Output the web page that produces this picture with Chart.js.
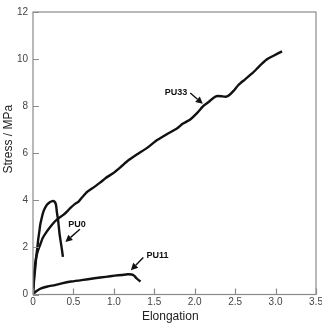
<!DOCTYPE html>
<html>
<head>
<meta charset="utf-8">
<script src="https://cdn.jsdelivr.net/npm/chart.js@4/dist/chart.umd.min.js"></script>
<style>
  html, body { margin: 0; padding: 0; background: #fff; }
  #wrap { width: 322px; height: 323px; position: relative; }
</style>
</head>
<body>
<div id="wrap"><canvas id="stressChart"></canvas></div>
<script>
// [elongation, stress MPa]
const pu33 = [
  [0, 0], [0.01, 0.6], [0.02, 1.1], [0.035, 1.5], [0.06, 1.85], [0.087, 2.1],
  [0.12, 2.4], [0.17, 2.67], [0.22, 2.9], [0.27, 3.1], [0.32, 3.25], [0.375, 3.38],
  [0.42, 3.52], [0.46, 3.67], [0.52, 3.85], [0.56, 3.93], [0.6, 4.1], [0.66, 4.33],
  [0.75, 4.55], [0.83, 4.75], [0.9, 4.95], [0.99, 5.15], [1.08, 5.4], [1.18, 5.7],
  [1.3, 5.98], [1.42, 6.25], [1.53, 6.55], [1.65, 6.8], [1.78, 7.05], [1.85, 7.25],
  [1.94, 7.42], [2.04, 7.75], [2.11, 8.02], [2.18, 8.2], [2.23, 8.35], [2.28, 8.43],
  [2.33, 8.42], [2.38, 8.4], [2.42, 8.45], [2.48, 8.65], [2.54, 8.9], [2.62, 9.13],
  [2.72, 9.42], [2.8, 9.7], [2.89, 9.98], [2.98, 10.15], [3.08, 10.33]
];
const pu0 = [
  [0, 0], [0.015, 0.7], [0.03, 1.2], [0.04, 1.6], [0.053, 1.97], [0.065, 2.35],
  [0.078, 2.67], [0.09, 2.97], [0.107, 3.24], [0.125, 3.48], [0.148, 3.67], [0.17, 3.8],
  [0.2, 3.9], [0.225, 3.95], [0.25, 3.97], [0.27, 3.93], [0.285, 3.8], [0.295, 3.5],
  [0.31, 3.17], [0.33, 2.53], [0.355, 1.97], [0.37, 1.6]
];
const pu11 = [
  [0, 0], [0.02, 0.08], [0.045, 0.15], [0.1, 0.26], [0.18, 0.34], [0.27, 0.4],
  [0.37, 0.48], [0.47, 0.55], [0.6, 0.61], [0.76, 0.69], [0.9, 0.75], [1.01, 0.8],
  [1.1, 0.83], [1.17, 0.86], [1.22, 0.85], [1.25, 0.8], [1.28, 0.69], [1.31, 0.6],
  [1.33, 0.55]
];

const seriesNames = ["PU33", "PU0", "PU11"];
const xTicks = [0, 0.5, 1.0, 1.5, 2.0, 2.5, 3.0, 3.5];
const yTicks = [0, 2, 4, 6, 8, 10, 12];
const xTitle = "Elongation";
const yTitle = "Stress / MPa";

// label text, label position, arrow start, arrow tip (data units)
const labels = [
  { text: "PU33", at: [1.77, 8.6], from: [1.945, 8.56], to: [2.1, 8.1] },
  { text: "PU0", at: [0.544, 2.98], from: [0.58, 2.77], to: [0.4, 2.23] },
  { text: "PU11", at: [1.54, 1.64], from: [1.364, 1.57], to: [1.21, 1.03] }
];

const FONT = "'Liberation Sans', Arial, sans-serif";

function toPoints(arr) {
  return arr.map(p => ({ x: p[0], y: p[1] }));
}

const frame = {
  id: "frame",
  afterDraw(chart) {
    const ctx = chart.ctx;
    const a = chart.chartArea;
    const xs = chart.scales.x, ys = chart.scales.y;
    ctx.save();
    ctx.strokeStyle = "#8a8a8a";
    ctx.lineWidth = 1.2;
    ctx.strokeRect(a.left, a.top, a.right - a.left, a.bottom - a.top);
    ctx.beginPath();
    xTicks.forEach(v => {
      const px = Math.round(xs.getPixelForValue(v)) + 0.5;
      ctx.moveTo(px, a.bottom);
      ctx.lineTo(px, a.bottom - 6);
    });
    yTicks.forEach(v => {
      const py = Math.round(ys.getPixelForValue(v)) + 0.5;
      ctx.moveTo(a.left, py);
      ctx.lineTo(a.left + 6, py);
    });
    ctx.stroke();

    // axis titles
    ctx.fillStyle = "#222";
    ctx.font = "12px " + FONT;
    ctx.textAlign = "center";
    ctx.textBaseline = "middle";
    ctx.fillText(xTitle, a.left + (a.right - a.left) * 0.485, chart.height - 6);
    ctx.save();
    ctx.translate(9, a.top + (a.bottom - a.top) * 0.45);
    ctx.rotate(-Math.PI / 2);
    ctx.fillText(yTitle, 0, 0);
    ctx.restore();

    ctx.fillStyle = "#111";
    ctx.strokeStyle = "#111";
    ctx.font = "bold 9px " + FONT;
    labels.forEach(l => {
      ctx.fillText(l.text, xs.getPixelForValue(l.at[0]), ys.getPixelForValue(l.at[1]));
      const x1 = xs.getPixelForValue(l.from[0]), y1 = ys.getPixelForValue(l.from[1]);
      const x2 = xs.getPixelForValue(l.to[0]), y2 = ys.getPixelForValue(l.to[1]);
      const ang = Math.atan2(y2 - y1, x2 - x1);
      const hl = 7, hw = 3.5;
      ctx.lineWidth = 1.4;
      ctx.beginPath();
      ctx.moveTo(x1, y1);
      ctx.lineTo(x2 - hl * Math.cos(ang), y2 - hl * Math.sin(ang));
      ctx.stroke();
      ctx.beginPath();
      ctx.moveTo(x2, y2);
      ctx.lineTo(x2 - hl * Math.cos(ang) + hw * Math.sin(ang), y2 - hl * Math.sin(ang) - hw * Math.cos(ang));
      ctx.lineTo(x2 - hl * Math.cos(ang) - hw * Math.sin(ang), y2 - hl * Math.sin(ang) + hw * Math.cos(ang));
      ctx.closePath();
      ctx.fill();
    });
    ctx.restore();
  }
};

function makeSet(name, data) {
  return {
    label: name,
    data: toPoints(data),
    showLine: true,
    borderColor: "#111",
    borderWidth: 2.4,
    pointRadius: 0,
    tension: 0.15,
    fill: false
  };
}

window.onload = function () {
  const ctx = document.getElementById("stressChart").getContext("2d");
  new Chart(ctx, {
    type: "scatter",
    data: {
      datasets: [
        makeSet(seriesNames[0], pu33),
        makeSet(seriesNames[1], pu0),
        makeSet(seriesNames[2], pu11)
      ]
    },
    options: {
      responsive: true,
      maintainAspectRatio: false,
      animation: false,
      layout: { padding: { top: 12, right: 6, left: 0, bottom: 0 } },
      plugins: {
        legend: { display: false },
        tooltip: { enabled: false }
      },
      scales: {
        x: {
          type: "linear",
          min: 0,
          max: 3.5,
          afterBuildTicks(s) { s.ticks = xTicks.map(v => ({ value: v })); },
          afterFit(s) { s.height = 28.5; s.paddingLeft = 0; s.paddingRight = 0; },
          grid: { display: false, drawTicks: false },
          border: { display: false },
          ticks: {
            padding: 2,
            color: "#444",
            font: { family: FONT, size: 10 },
            callback: v => (v === 0 ? "0" : v.toFixed(1))
          },
          title: { display: false }
        },
        y: {
          type: "linear",
          min: 0,
          max: 12,
          afterBuildTicks(s) { s.ticks = yTicks.map(v => ({ value: v })); },
          afterFit(s) { s.width = 33; s.paddingTop = 0; s.paddingBottom = 0; },
          grid: { display: false, drawTicks: false },
          border: { display: false },
          ticks: {
            padding: 5,
            color: "#444",
            font: { family: FONT, size: 10 },
            callback: v => String(v)
          },
          title: { display: false }
        }
      }
    },
    plugins: [frame]
  });
};
</script>
</body>
</html>
